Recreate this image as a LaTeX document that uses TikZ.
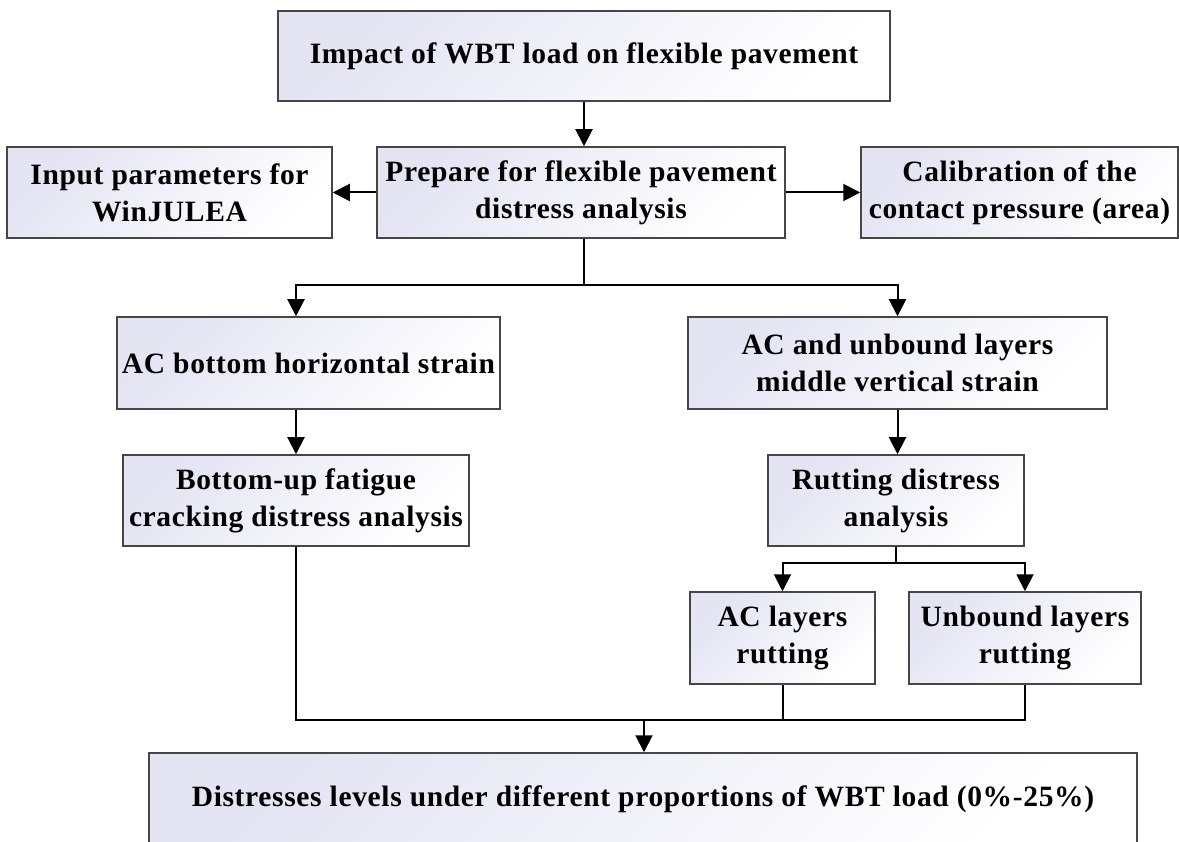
\documentclass[tikz,border=0pt]{standalone}
\usepackage{fontspec}
\setmainfont{Liberation Serif}[LetterSpace=2.2]
\usetikzlibrary{arrows.meta}
\definecolor{boxtint}{RGB}{228,228,243}
\definecolor{boxline}{RGB}{70,70,70}
\begin{document}
\begin{tikzpicture}[x=1pt,y=-1pt,
  box/.style={draw=boxline, line width=1.5pt, left color=boxtint, right color=white,
    shading angle=45, align=center, inner sep=0pt,
    font=\fontsize{29.5}{37}\selectfont\bfseries},
  conn/.style={line width=2pt, draw=black},
  arr/.style={conn, -{Triangle[length=17pt,width=17pt]}}]
\useasboundingbox (0,0) rectangle (1179,842);
\node[box, minimum width=612pt, minimum height=90pt] (top) at (584,56) {Impact of WBT load on flexible pavement};
\node[box, minimum width=408pt, minimum height=91pt] (prep) at (581,192.5) {Prepare for flexible pavement\\distress analysis};
\node[box, minimum width=325pt, minimum height=91pt] (input) at (169.5,192.5) {Input parameters for\\WinJULEA};
\node[box, minimum width=317pt, minimum height=91pt] (calib) at (1019.5,192.5) {Calibration of the\\contact pressure (area)};
\node[box, minimum width=383pt, minimum height=92pt] (acbot) at (308.5,363) {AC bottom horizontal strain};
\node[box, minimum width=419pt, minimum height=92pt] (acunb) at (897.5,363) {AC and unbound layers\\middle vertical strain};
\node[box, minimum width=346pt, minimum height=91pt] (bup) at (296,500.5) {Bottom-up fatigue\\cracking distress analysis};
\node[box, minimum width=256pt, minimum height=91pt] (rut) at (896,500.5) {Rutting distress\\analysis};
\node[box, minimum width=185pt, minimum height=92pt] (acl) at (782.5,638) {AC layers\\rutting};
\node[box, minimum width=232pt, minimum height=92pt] (unl) at (1025,638) {Unbound layers\\rutting};
\node[box, minimum width=988pt, minimum height=93pt] (final) at (643,799.5) {Distresses levels under different proportions of WBT load (0\%-25\%)};
\coordinate (split1) at (584,285);
\coordinate (split2) at (896,563);
\coordinate (merge) at (644,720);
\draw[arr] (top.south) -- (top.south |- prep.north);
\draw[arr] (prep.west) -- (input.east);
\draw[arr] (prep.east) -- (calib.west);
\draw[conn] (split1 |- prep.south) -- (split1);
\draw[arr] (split1) -| (bup.north |- acbot.north);
\draw[arr] (split1) -| (acunb.north);
\draw[arr] (bup.north |- acbot.south) -- (bup.north);
\draw[arr] (acunb.south) -- (acunb.south |- rut.north);
\draw[conn] (rut.south) -- (split2);
\draw[arr] (split2) -| (acl.north);
\draw[arr] (split2) -| (unl.north);
\draw[conn] (bup.south) |- (unl.south |- merge) -- (unl.south);
\draw[conn] (acl.south) -- (acl.south |- merge);
\draw[arr] (merge) -- (merge |- final.north);
\end{tikzpicture}
\end{document}
